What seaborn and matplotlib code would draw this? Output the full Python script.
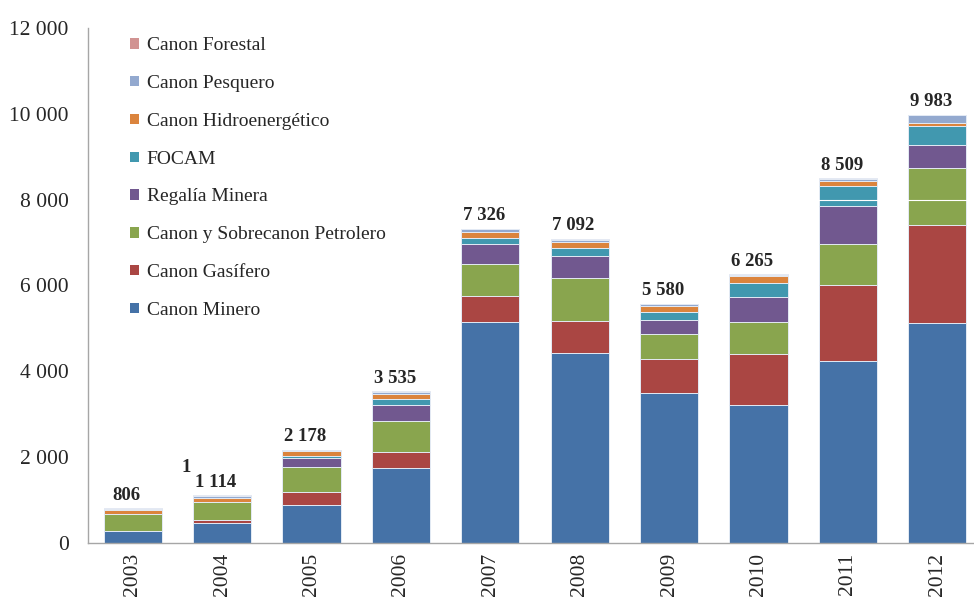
import seaborn as sns; sns.set_style("white")
import matplotlib
matplotlib.use("Agg")
import matplotlib.pyplot as plt
from matplotlib.patches import Patch
import pandas as pd
import numpy as np

years = [2003, 2004, 2005, 2006, 2007, 2008, 2009, 2010, 2011, 2012]
canon_minero = [285, 465, 884, 1759, 5148, 4427, 3505, 3210, 4233, 5124]
canon_gasifero = [5, 60, 293, 372, 604, 744, 775, 1186, 1768, 2296]
canon_petrolero = [390, 435, 591, 714, 738, 993, 581, 744, 977, 1326]
regalia_minera = [0, 0, 209, 372, 488, 535, 326, 589, 877, 535]
focam = [0, 0, 54, 140, 140, 170, 186, 319, 456, 435]
canon_hidro = [80, 100, 116, 123, 139, 148, 140, 162, 132, 77]
canon_pesquero = [35, 42, 22, 47, 63, 54, 53, 45, 50, 169]
canon_forestal = [11, 12, 9, 8, 6, 21, 14, 10, 16, 21]

series_names = ['Canon Minero', 'Canon Gasífero', 'Canon y Sobrecanon Petrolero',
                'Regalía Minera', 'FOCAM', 'Canon Hidroenergético',
                'Canon Pesquero', 'Canon Forestal']
series_vals = [canon_minero, canon_gasifero, canon_petrolero, regalia_minera,
               focam, canon_hidro, canon_pesquero, canon_forestal]
colors = ['#4572A7', '#AA4643', '#89A54E', '#71588F',
          '#4198AF', '#DB843D', '#93A9CF', '#D19392']

FONT = ['Liberation Serif', 'DejaVu Serif']
plt.rcParams['font.family'] = FONT

df = pd.DataFrame(dict(zip(series_names, series_vals)), index=years)
cum = df.cumsum(axis=1)
year_labels = [str(y) for y in years]

fig = plt.figure(figsize=(9.74, 6.05), dpi=100)
ax = fig.add_axes([88 / 974, 62 / 605, 894 / 974, 515 / 605])

# stacked bars: draw cumulative totals from the top layer down
for i in range(len(series_names) - 1, -1, -1):
    d = pd.DataFrame({'year': year_labels, 'val': cum.iloc[:, i].values})
    sns.barplot(x='year', y='val', data=d, order=year_labels, color=colors[i],
                saturation=1, width=0.65, edgecolor='#e4ebf5', linewidth=0.7, ax=ax)

totals = df.sum(axis=1).values
for k, t in enumerate(totals):
    ax.annotate('{:,}'.format(int(t)).replace(',', ' '), (k - 0.07, t),
                xytext=(0, 3), textcoords='offset points', ha='center', va='bottom',
                fontsize=13.5, fontweight='bold')
ax.text(0.6, 1560, '1', ha='center', va='bottom', fontsize=13.5, fontweight='bold')

# faint white rule seen across the last bars
ax.hlines(8000, 7.5, 9.5, color='white', lw=0.8, zorder=5)

ax.set_ylim(0, 12000)
ax.set_xlim(-0.5, 9.5)
ax.set_yticks(np.arange(0, 12001, 2000))
ax.set_yticklabels(['{:,}'.format(v).replace(',', ' ') for v in range(0, 12001, 2000)],
                   fontsize=15.5)
ax.set_xticks(range(len(years)))
ax.set_xticklabels(year_labels, rotation=90, fontsize=15.5)
ax.set_xticks(np.arange(-0.5, 9.6, 1), minor=True)
ax.tick_params(axis='x', which='major', length=0, pad=7)
ax.tick_params(axis='x', which='minor', length=7, color='#a0a0a0', width=1, direction='out')
ax.tick_params(axis='y', length=6, color='#a0a0a0', width=1, direction='out', pad=8)
ax.set_xlabel('')
ax.set_ylabel('')
for s in ['top', 'right']:
    ax.spines[s].set_visible(False)
for s in ['left', 'bottom']:
    ax.spines[s].set_color('#a6a6a6')
    ax.spines[s].set_linewidth(1)

handles = [Patch(facecolor=colors[i], edgecolor='none', label=series_names[i])
           for i in range(len(series_names) - 1, -1, -1)]
ax.legend(handles=handles, loc='upper left', bbox_to_anchor=(0.047, 0.982),
          frameon=False, fontsize=14, handlelength=0.45, handleheight=0.45,
          handletextpad=0.4, labelspacing=1.07, borderpad=0, borderaxespad=0)

plt.savefig('out.png', dpi=100)
